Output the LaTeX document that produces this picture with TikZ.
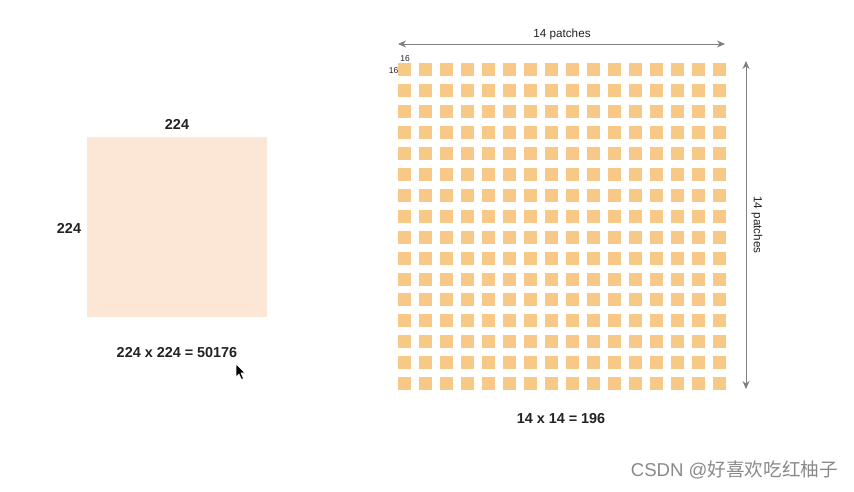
\documentclass[tikz,border=0pt]{standalone}
\usepackage{fontspec}
\setmainfont{Liberation Sans}
\newfontfamily\cjk{Noto Sans CJK SC}
\usetikzlibrary{arrows.meta}
\definecolor{imgfill}{HTML}{FCE6D6}
\definecolor{patchfill}{HTML}{F8C886}
\definecolor{arrowgray}{HTML}{808080}
\definecolor{txtdark}{HTML}{222222}
\definecolor{wmgray}{HTML}{8A8A8A}
\tikzset{
  patchbox/.style={fill=patchfill, draw=none, minimum size=13pt, inner sep=0pt, outer sep=0pt},
  boldlabel/.style={font=\fontsize{14.4}{16}\selectfont\bfseries, text=txtdark, inner sep=0pt},
  smalllabel/.style={font=\fontsize{11.7}{13}\selectfont, text=txtdark, inner sep=0pt},
  tinylabel/.style={font=\fontsize{8.5}{9}\selectfont, text=txtdark, inner sep=0pt},
  dimarrow/.style={draw=arrowgray, line width=0.9pt, {Stealth[length=8pt,width=7pt]}-{Stealth[length=8pt,width=7pt]}},
}
\begin{document}
\begin{tikzpicture}[x=1pt,y=-1pt]
\useasboundingbox[fill=white] (0,0) rectangle (854,491);
% left image
\node[fill=imgfill, minimum width=180pt, minimum height=180pt, inner sep=0pt, outer sep=0pt] (img) at (177,227) {};
\node[boldlabel] (topl) at (177,124) {224};
\node[boldlabel] (leftl) at (69,228) {224};
\node[boldlabel] (eq1) at (177,353) {224 x 224 = 50176};
% patches
\foreach \i in {0,...,15}{
  \foreach \j in {0,...,15}{
    \node[patchbox] (p-\i-\j) at ({404.5+21*\i},{69.5+20.95*\j}) {};
  }
}
\node[tinylabel] (w16) at (405,59) {16};
\node[tinylabel] (h16) at (393.5,70.5) {16};
% arrows
\coordinate (hl) at (398,44);
\coordinate (hr) at (725,44);
\draw[dimarrow] (hl) -- (hr);
\node[smalllabel] (hlab) at (562,34) {14 patches};
\coordinate (vt) at (746,61);
\coordinate (vb) at (746,389);
\draw[dimarrow] (vt) -- (vb);
\node[smalllabel, rotate=-90] (vlab) at (757,225) {14 patches};
\node[boldlabel] (eq2) at (561,419) {14 x 14 = 196};
% cursor
\filldraw[fill=black, draw=white, line width=0.6pt] (236,364) -- (236,377) -- (239,374) -- (241.5,379.5) -- (243.5,378.5) -- (241,373) -- (245,373) -- cycle;
% watermark
\node[font=\fontsize{18.6}{20}\selectfont, text=wmgray, inner sep=0pt, anchor=east] (wm) at (838,470) {CSDN @{\cjk 好喜欢吃红柚子}};
\end{tikzpicture}
\end{document}
